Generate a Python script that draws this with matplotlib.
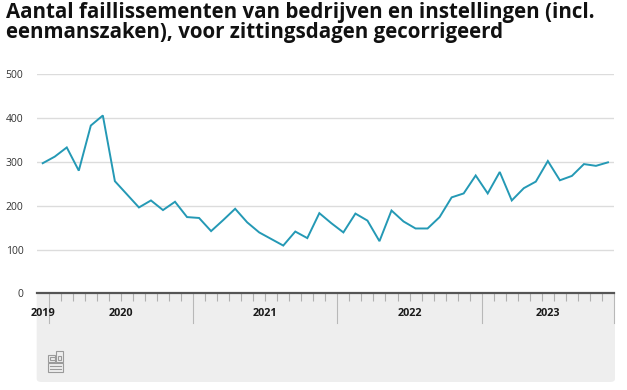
import numpy as np
import pandas as pd
import matplotlib
matplotlib.use('Agg')
import matplotlib.pyplot as plt
from matplotlib.patches import FancyBboxPatch, Rectangle
from matplotlib.transforms import blended_transform_factory

TITLE = ('Aantal faillissementen van bedrijven en instellingen (incl.\n'
         'eenmanszaken), voor zittingsdagen gecorrigeerd')

# maandcijfers, dec 2019 t/m nov 2023
months = pd.period_range('2019-12', '2023-11', freq='M')
faillissementen = [
    297, 312, 333, 280, 383, 406, 256, 226, 196, 212, 190, 209,
    174, 172, 142, 167, 193, 162, 139, 124, 109, 141, 126, 183,
    160, 139, 182, 166, 119, 189, 164, 148, 148, 174, 219, 228,
    269, 228, 277, 212, 240, 255, 302, 258, 268, 295, 291, 299,
]
y_ticks = [0, 100, 200, 300, 400, 500]

W, H = 627, 390
LINE = '#2499b5'
GRID = '#dcdcdc'


def fx(px):
    return px / W


def fy(py):
    return 1 - py / H


fig = plt.figure(figsize=(W / 100, H / 100), dpi=100)
fig.patch.set_facecolor('white')

# grey panel under the x axis
left, right, top, bottom = 36.7, 615, 293, 382
panel = FancyBboxPatch((fx(left), fy(bottom)), fx(right - left), fy(top) - fy(bottom),
                       boxstyle='round,pad=0,rounding_size=0.008',
                       transform=fig.transFigure, facecolor='#eeeeee',
                       edgecolor='none', zorder=-5)
fig.patches.append(panel)

ax = fig.add_axes([fx(left), fy(293.3), fx(614 - left), (293.3 - 74.3) / H])
ax.set_zorder(2)
ax.patch.set_alpha(0)

x = np.arange(len(months))
ax.plot(x, faillissementen, color=LINE, lw=1.4, solid_joinstyle='miter', zorder=3)

ax.set_xlim(-0.5, len(months) - 0.5)
ax.set_ylim(0, 500)
ax.set_yticks(y_ticks)
ax.set_yticklabels([str(v) for v in y_ticks], fontsize=7.5, color='#333333',
                   fontfamily='Open Sans')
ax.tick_params(axis='y', length=0, pad=9.5)
for v in y_ticks[1:]:
    ax.axhline(v, color=GRID, lw=1.0, zorder=1)

for s in ['top', 'right', 'left']:
    ax.spines[s].set_visible(False)
ax.spines['bottom'].set_color('#555555')
ax.spines['bottom'].set_linewidth(1.6)
ax.spines['bottom'].set_zorder(4)

# month ticks, long ticks at year boundaries
years = months.year
bounds = x[1:] - 0.5
year_bounds = [b for b, y0, y1 in zip(bounds, years[:-1], years[1:]) if y0 != y1]
month_bounds = [b for b in bounds if b not in year_bounds]
ax.set_xticks(month_bounds)
ax.set_xticklabels([])
ax.tick_params(axis='x', length=5.8, width=0.8, color='#b0b0b0', direction='out')
trans = blended_transform_factory(ax.transData, ax.transAxes)
for b in year_bounds + [len(months) - 0.5]:
    ax.plot([b, b], [0, -29.5 / 219], transform=trans, color='#b8b8b8',
            lw=0.8, clip_on=False, zorder=2)

for yr in sorted(set(years)):
    pos = x[years == yr].mean()
    ax.text(pos, -20 / 219, str(yr), transform=trans, ha='center', va='center',
            fontsize=7.8, color='#1a1a1a', fontfamily='Open Sans', fontweight='bold')

# title
fig.text(fx(6), fy(2), TITLE, ha='left', va='top', fontsize=14.8,
         fontweight='bold', fontfamily='Open Sans', color='#111111', linespacing=0.95)

# cbs logo (rough)
logo_kw = dict(transform=fig.transFigure, fill=False, edgecolor='#9a9a9a', lw=0.8)


def box(x0, y0, x1, y1):
    fig.patches.append(Rectangle((fx(x0), fy(y1)), fx(x1 - x0), fy(y0) - fy(y1), **logo_kw))


box(47.5, 355, 54.5, 361.5)
box(49.5, 357, 54.5, 359.5)
box(56, 351, 63, 361.5)
box(58, 355.5, 61, 359.5)
box(47.5, 363, 63, 372)
for yy in (366, 369):
    fig.lines.append(plt.Line2D([fx(49.5), fx(61)], [fy(yy), fy(yy)],
                                transform=fig.transFigure, color='#9a9a9a', lw=0.8))

fig.savefig('out.png', dpi=100)
